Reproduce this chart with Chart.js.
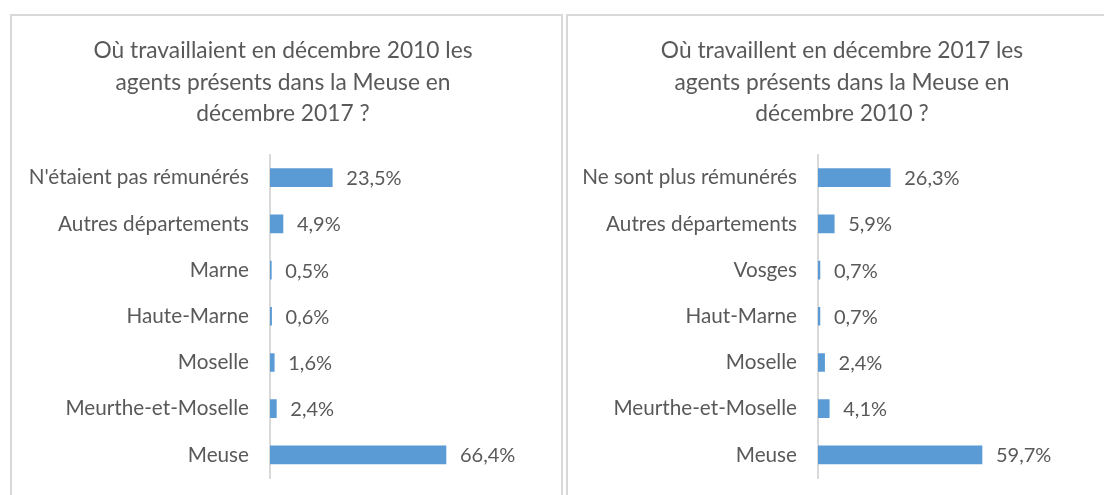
<!DOCTYPE html>
<html>
<head>
<meta charset="utf-8">
<script src="https://cdn.jsdelivr.net/npm/chart.js@4.4.1/dist/chart.umd.min.js"></script>
<style>
  html, body { margin: 0; padding: 0; background: #ffffff; overflow: hidden; width: 1104px; height: 495px; }
  .panel { position: absolute; top: 14px; height: 520px; border: 2px solid #d9d9d9; box-sizing: border-box; background: #fff; }
  #p1 { left: 10px; width: 553px; }
  #p2 { left: 566px; width: 552px; }
  canvas { position: absolute; top: 0; left: 0; }
</style>
</head>
<body>
<div class="panel" id="p1"><canvas id="c1" width="542" height="480"></canvas></div>
<div class="panel" id="p2"><canvas id="c2" width="548" height="480"></canvas></div>
<script>
// ---- Data ----
const titleLeft = ["Où travaillaient en décembre 2010 les", "agents présents dans la Meuse en", "décembre 2017 ?"];
const categoriesLeft = ["N'étaient pas rémunérés", "Autres départements", "Marne", "Haute-Marne", "Moselle", "Meurthe-et-Moselle", "Meuse"];
const valuesLeft = [23.5, 4.9, 0.5, 0.6, 1.6, 2.4, 66.4];

const titleRight = ["Où travaillent en décembre 2017 les", "agents présents dans la Meuse en", "décembre 2010 ?"];
const categoriesRight = ["Ne sont plus rémunérés", "Autres départements", "Vosges", "Haut-Marne", "Moselle", "Meurthe-et-Moselle", "Meuse"];
const valuesRight = [26.3, 5.9, 0.7, 0.7, 2.4, 4.1, 59.7];

// ---- Styles ----
const FONT = "Lato, 'Open Sans', sans-serif";
const TEXT = "#595959";
const BAR = "#5b9bd5";

const valueLabels = {
  id: 'valueLabels',
  afterDatasetsDraw(chart) {
    const ctx = chart.ctx;
    const meta = chart.getDatasetMeta(0);
    const data = chart.data.datasets[0].data;
    ctx.save();
    ctx.font = "20px " + FONT;
    ctx.fillStyle = TEXT;
    ctx.textAlign = 'left';
    ctx.textBaseline = 'middle';
    meta.data.forEach((bar, i) => {
      const txt = data[i].toFixed(1).replace('.', ',') + '%';
      ctx.fillText(txt, bar.x + 14, bar.y + 1);
    });
    ctx.restore();
  }
};

function makeChart(id, title, cats, vals, yWidth, xMax) {
  return new Chart(document.getElementById(id), {
    type: 'bar',
    data: {
      labels: cats,
      datasets: [{ data: vals, backgroundColor: BAR, borderWidth: 0, barThickness: 18 }]
    },
    options: {
      indexAxis: 'y',
      responsive: false,
      animation: false,
      layout: { padding: { left: 0, right: 0, top: 0, bottom: 18 } },
      plugins: {
        legend: { display: false },
        tooltip: { enabled: false },
        title: {
          display: true,
          text: title,
          color: TEXT,
          font: { family: FONT, size: 22.75, weight: 'normal', lineHeight: 1.385 },
          padding: { top: 19, bottom: 25 }
        }
      },
      scales: {
        x: { display: false, min: 0, max: xMax },
        y: {
          afterFit(scale) {
            scale.width = yWidth;
            scale.paddingTop = 0;
            scale.paddingBottom = 0;
          },
          grid: { display: false, drawTicks: false },
          border: { display: true, color: '#d9d9d9', width: 2 },
          ticks: { color: TEXT, font: { family: FONT, size: 20.7 }, padding: 21 }
        }
      }
    },
    plugins: [valueLabels]
  });
}

makeChart('c1', titleLeft, categoriesLeft, valuesLeft, 258, 284 / 2.65);
makeChart('c2', titleRight, categoriesRight, valuesRight, 250, 298 / 2.747);
</script>
</body>
</html>
